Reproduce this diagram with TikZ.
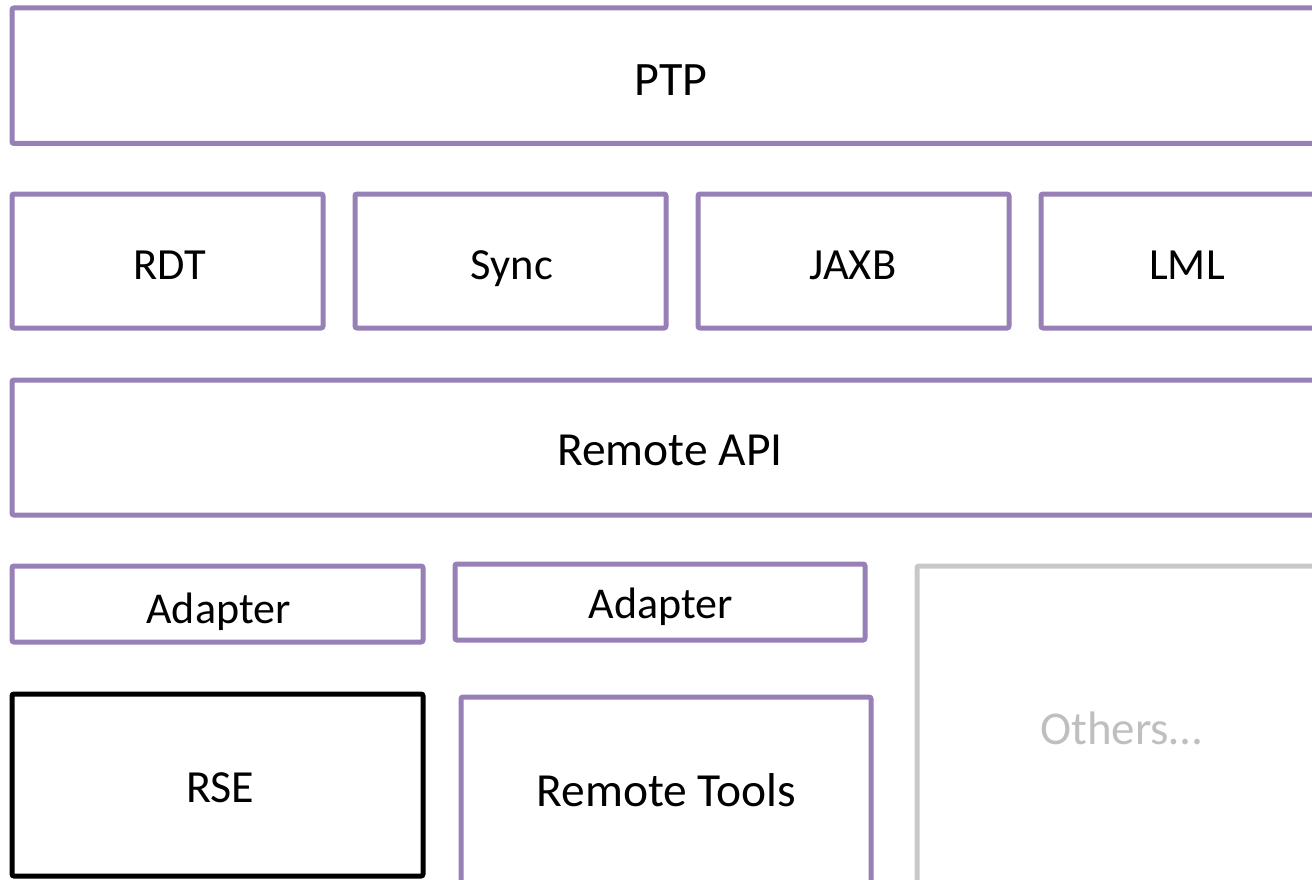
\documentclass[tikz,border=0pt]{standalone}
\usepackage{fontspec}
\setmainfont{Carlito}
\definecolor{boxpurple}{RGB}{151,128,182}
\definecolor{boxgray}{RGB}{200,200,200}
\definecolor{txtgray}{RGB}{191,191,191}
\tikzset{
  box/.style={draw=boxpurple, line width=5pt, rounded corners=2pt, rectangle, inner sep=0pt},
  blackbox/.style={box, draw=black},
  graybox/.style={box, draw=boxgray},
  lbl/.style={anchor=base, inner sep=0pt, text=black},
}
\newcommand{\fsz}[1]{\fontsize{#1}{#1}\selectfont}
\begin{document}
\begin{tikzpicture}[x=1pt,y=-1pt]
\useasboundingbox (0,0) rectangle (1312,880);
\clip (0,0) rectangle (1312,880);
% boxes
\node[box, minimum width=1318pt, minimum height=135.5pt] (ptp) at (671,75.75) {};
\node[box, minimum width=311pt, minimum height=134pt] (rdt) at (167.5,261) {};
\node[box, minimum width=311pt, minimum height=134pt] (sync) at (510.5,261) {};
\node[box, minimum width=311pt, minimum height=134pt] (jaxb) at (853.5,261) {};
\node[box, minimum width=299pt, minimum height=134pt] (lml) at (1190.5,261) {};
\node[box, minimum width=1318pt, minimum height=135pt] (api) at (671,447.5) {};
\node[box, minimum width=411pt, minimum height=76pt] (ad1) at (217.5,604) {};
\node[box, minimum width=410pt, minimum height=76pt] (ad2) at (660,602) {};
\node[blackbox, minimum width=411pt, minimum height=182pt] (rse) at (217.5,785) {};
\node[box, minimum width=410pt, minimum height=193pt] (tools) at (666,793.5) {};
\node[graybox, minimum width=413pt, minimum height=324pt] (others) at (1123.5,728) {};
% labels
\node[lbl] (ptpL) at (671,96) {\fsz{48}PTP};
\node[lbl] (rdtL) at (169.5,279) {\fsz{44.5}RDT};
\node[lbl] (syncL) at (512,279) {\fsz{44.5}Sync};
\node[lbl] (jaxbL) at (853,279) {\fsz{44.5}JAXB};
\node[lbl] (lmlL) at (1187,279) {\fsz{44.5}LML};
\node[lbl] (apiL) at (670,465) {\fsz{47.5}Remote API};
\node[lbl] (ad1L) at (218.5,623) {\fsz{44}Adapter};
\node[lbl] (ad2L) at (661,618) {\fsz{44}Adapter};
\node[lbl] (rseL) at (220,802) {\fsz{46}RSE};
\node[lbl] (toolsL) at (666.5,806) {\fsz{47.5}Remote Tools};
\node[lbl, text=txtgray] (othersL) at (1121,744) {\fsz{47}Others…};
\end{tikzpicture}
\end{document}
